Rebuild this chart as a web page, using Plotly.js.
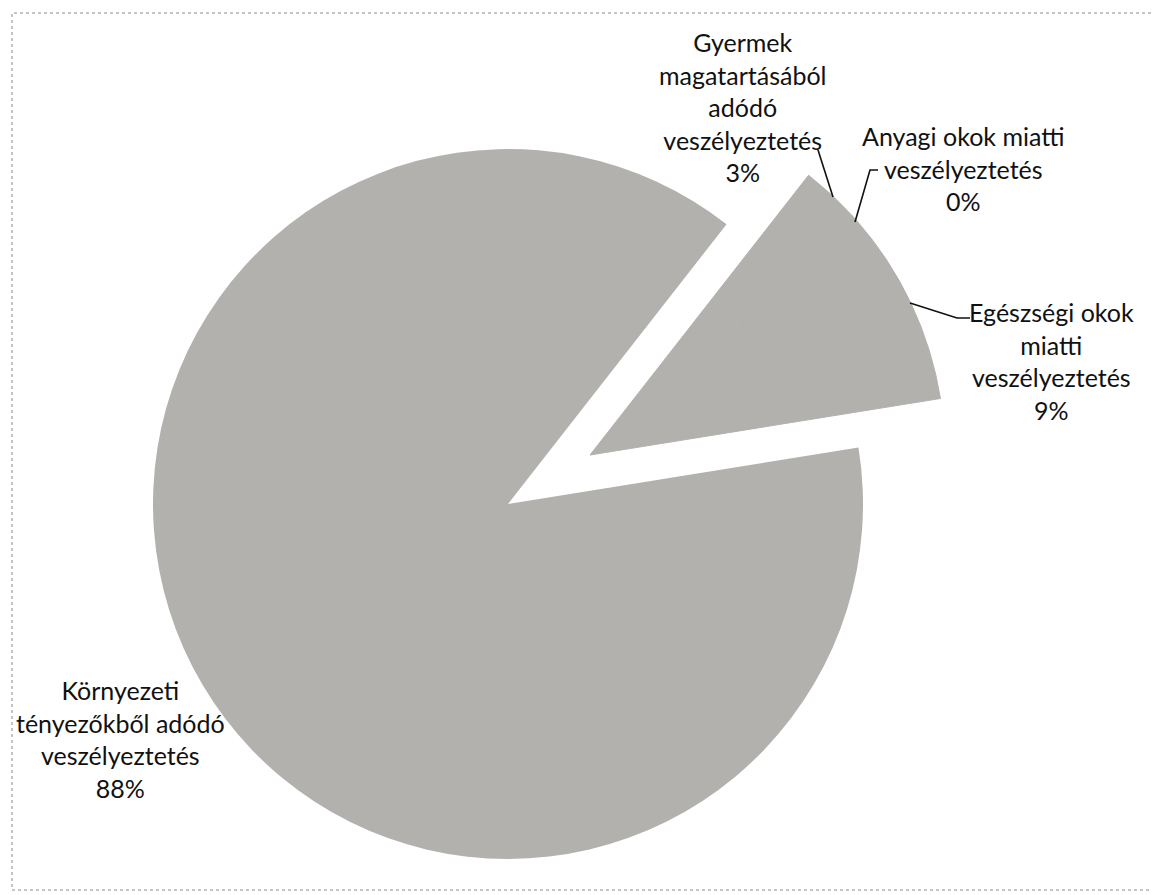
<!DOCTYPE html>
<html>
<head>
<meta charset="utf-8">
<script src="https://cdn.plot.ly/plotly-3.0.1.min.js"></script>
<style>html,body{margin:0;padding:0;background:#fff;overflow:hidden;}</style>
</head>
<body>
<div id="chart" style="width:1152px;height:895px;"></div>
<script>
// ---- data (clockwise order, starting from the exploded wedge) ----
var categories = [
  "Gyermek magatartásából adódó veszélyeztetés",
  "Anyagi okok miatti veszélyeztetés",
  "Egészségi okok miatti veszélyeztetés",
  "Környezeti tényezőkből adódó veszélyeztetés"
];
var labelLines = [
  "Gyermek<br>magatartásából<br>adódó<br>veszélyeztetés",
  "Anyagi okok miatti<br>veszélyeztetés",
  "Egészségi okok<br>miatti<br>veszélyeztetés",
  "Környezeti<br>tényezőkből adódó<br>veszélyeztetés"
];
var values = [2.7, 0.3, 8.9, 88.1];
var exploded = [true, true, true, false];

// ---- layout helpers (pixel -> paper) ----
var W = 1152, H = 895;
function px(x){ return x / W; }
function py(y){ return 1 - y / H; }

var GRAY = "#b3b1ae";
var CLEAR = "rgba(0,0,0,0)";
var R = 355;
function domainAt(cx, cy){
  return {x:[px(cx - R), px(cx + R)], y:[py(cy + R), py(cy - R)]};
}

var common = {
  type: "pie", labels: categories, values: values, sort: false,
  direction: "clockwise", rotation: 38, textinfo: "none",
  hoverinfo: "skip", showlegend: false
};
var mainColors = exploded.map(function(e){ return e ? CLEAR : GRAY; });
var wedgeColors = exploded.map(function(e){ return e ? GRAY : CLEAR; });
var traceMain = Object.assign({}, common, {
  domain: domainAt(508, 504),
  marker: {colors: mainColors, line: {width: 0}}
});
var traceWedge = Object.assign({}, common, {
  domain: domainAt(590, 455),
  marker: {colors: wedgeColors, line: {color: wedgeColors, width: 1}}
});

var total = values.reduce(function(a,b){return a+b;}, 0);
function pct(v){ return Math.round(v / total * 100) + "%"; }

var labelPos = [[742, 107], [963, 168], [1051, 361], [120, 739]];
var annotations = labelLines.map(function(t, i){
  return {
    text: t + "<br>" + pct(values[i]),
    xref: "paper", yref: "paper",
    x: px(labelPos[i][0]), y: py(labelPos[i][1]),
    xanchor: "center", yanchor: "middle", align: "center",
    showarrow: false,
    font: {family: "Lato, 'Open Sans', sans-serif", size: 25, color: "#111111"}
  };
});

function seg(points){
  var d = points.map(function(p, i){
    return (i ? "L" : "M") + px(p[0]) + "," + py(p[1]);
  }).join(" ");
  return {type: "path", xref: "paper", yref: "paper", path: d,
          line: {color: "#111", width: 1.6}};
}
var shapes = [
  seg([[818, 150], [833, 197]]),
  seg([[855, 222], [870, 170], [878, 170]]),
  seg([[910, 303], [957, 318], [970, 318]]),
  {type: "rect", xref: "paper", yref: "paper",
   x0: px(12), y0: py(890), x1: px(1160), y1: py(13),
   line: {color: "#8a8a8a", width: 1, dash: "dot"}}
];

var layout = {
  width: W, height: H,
  margin: {l: 0, r: 0, t: 0, b: 0},
  paper_bgcolor: "#ffffff",
  showlegend: false,
  annotations: annotations,
  shapes: shapes
};

Plotly.newPlot("chart", [traceMain, traceWedge], layout, {displayModeBar: false, staticPlot: true});
</script>
</body>
</html>
